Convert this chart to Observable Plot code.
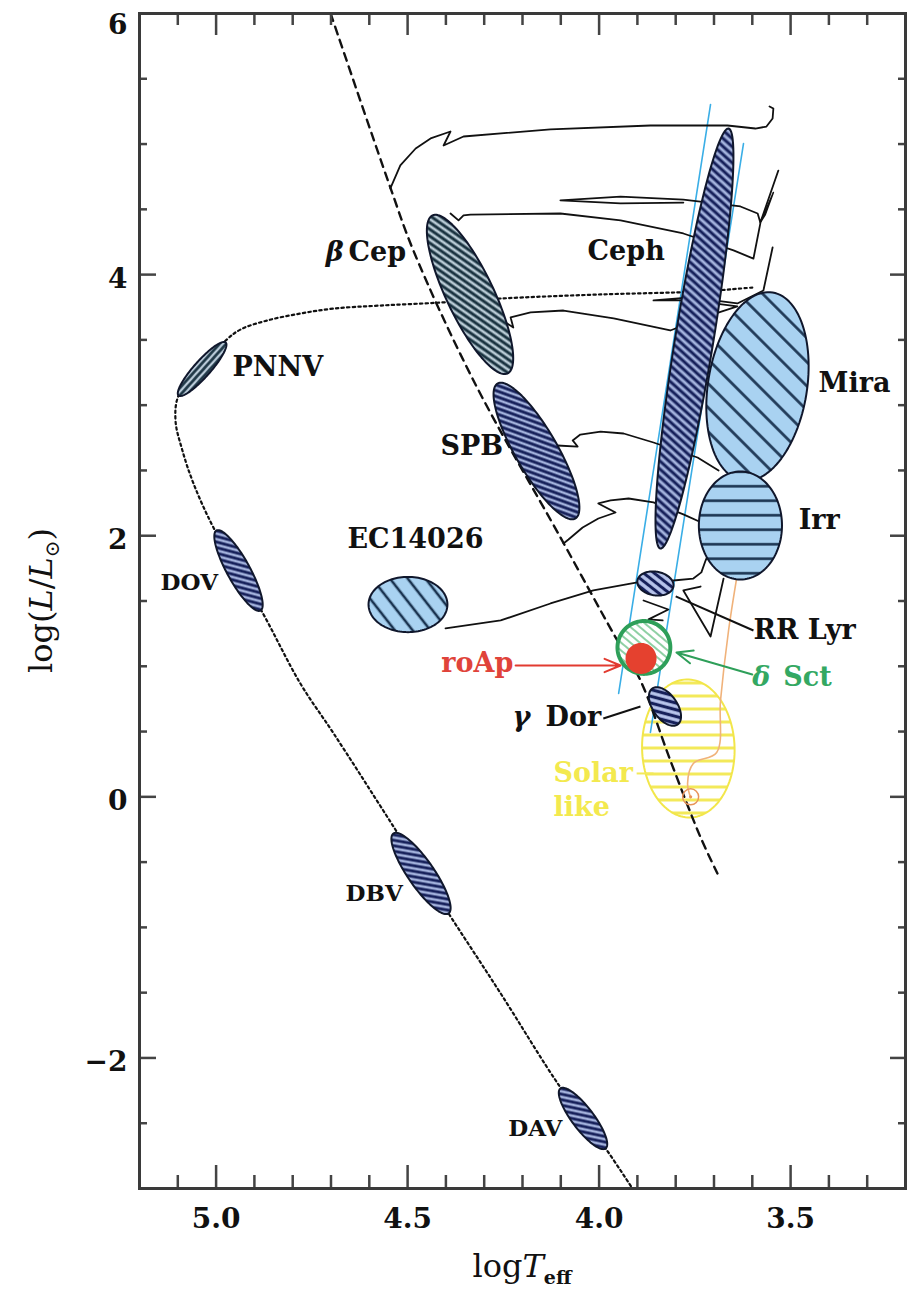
<!DOCTYPE html>
<html><head><meta charset="utf-8">
<script src="https://cdn.jsdelivr.net/npm/d3@7"></script>
<script src="https://cdn.jsdelivr.net/npm/@observablehq/plot@0.6"></script>
<style>html,body{margin:0;padding:0;background:#fff;} svg{display:block;}</style>
</head><body><div id="chart"></div>
<script>
// ---------------- data (log Teff, log L/Lsun) ----------------
const xMajorTicks = [5.0, 4.5, 4.0, 3.5];
const xMinorTicks = [5.1, 4.9, 4.8, 4.7, 4.6, 4.4, 4.3, 4.2, 4.1, 3.9, 3.8, 3.7, 3.6, 3.4, 3.3];
const yMajorTicks = [6, 4, 2, 0, -2];
const yMinorTicks = [5.5, 5, 4.5, 3.5, 3, 2.5, 1.5, 1, 0.5, -0.5, -1, -1.5, -2.5];

// zero-age main sequence (dashed)
const zamsT = [4.701, 4.545, 4.485, 4.328, 4.101, 3.957, 3.892, 3.814, 3.735, 3.691];
const zamsL = [6.0, 4.667, 4.185, 3.189, 1.987, 1.221, 0.891, 0.279, -0.311, -0.587];

// post-AGB / white dwarf cooling track (dotted)
const wdT = [3.600, 3.735, 3.996, 4.257, 4.414, 4.571, 4.693, 4.780, 4.866, 4.936, 4.975, 5.041, 5.098, 5.106, 5.088, 5.059, 5.007, 4.879, 4.780, 4.693, 4.552, 4.393, 4.257, 4.101, 3.983, 3.913];
const wdL = [3.901, 3.871, 3.848, 3.817, 3.786, 3.763, 3.740, 3.702, 3.649, 3.580, 3.495, 3.281, 3.074, 2.883, 2.653, 2.400, 2.063, 1.412, 0.868, 0.485, -0.158, -0.893, -1.506, -2.226, -2.693, -3.0];

// evolutionary tracks (solid)
const trackA_T = [4.545, 4.519, 4.479, 4.440, 4.388, 4.406, 4.354, 4.127, 3.866, 3.665, 3.592, 3.563, 3.547, 3.545, 3.555];
const trackA_L = [4.660, 4.836, 4.966, 5.043, 5.096, 4.989, 5.058, 5.112, 5.142, 5.142, 5.119, 5.134, 5.196, 5.272, 5.288];
const trackB_T = [3.780, 3.944, 4.101, 3.944, 3.780, 3.631, 3.586, 3.579, 3.532];
const trackB_L = [4.552, 4.545, 4.568, 4.598, 4.575, 4.522, 4.468, 4.399, 4.797];
const wedgeT = [3.579, 3.545, 3.566, 3.579];
const wedgeL = [4.399, 4.629, 4.460, 4.399];
const trackC_T = [4.388, 4.367, 4.354, 4.336, 4.101, 3.944, 3.780, 3.649, 3.597, 3.579];
const trackC_L = [4.468, 4.415, 4.453, 4.460, 4.468, 4.415, 4.315, 4.185, 4.123, 4.392];
const trackD_T = [4.244, 4.224, 4.231, 4.179, 4.093, 3.962, 3.814, 3.735, 3.639, 3.761, 3.858, 3.761, 3.639, 3.571, 3.547];
const trackD_L = [3.633, 3.595, 3.672, 3.710, 3.725, 3.664, 3.572, 3.664, 3.756, 3.802, 3.802, 3.825, 3.779, 3.878, 4.208];
const trackE_T = [4.109, 4.056, 4.069, 4.049, 3.996, 3.936, 3.858, 3.743, 3.688];
const trackE_L = [2.691, 2.683, 2.730, 2.775, 2.798, 2.783, 2.714, 2.599, 2.500];
const trackF_T = [4.093, 4.080, 4.043, 4.002, 3.957, 4.002, 3.970, 3.923, 3.858, 3.780, 3.727];
const trackF_L = [1.941, 1.971, 2.063, 2.132, 2.178, 2.247, 2.270, 2.285, 2.255, 2.163, 2.094];
const trackG_T = [4.401, 4.257, 4.127, 4.015, 3.900, 3.806, 3.754, 3.733, 3.722, 3.714];
const trackG_L = [1.290, 1.351, 1.481, 1.581, 1.642, 1.657, 1.672, 1.719, 1.810, 1.864];
const trackH_T = [3.884, 3.819, 3.871, 3.834];
const trackH_L = [1.504, 1.435, 1.359, 1.351];
const trackI_T = [3.735, 3.780, 3.709, 3.675];
const trackI_L = [1.611, 1.581, 1.228, 1.672];

// solar track (orange) and Sun
const sunTrackT = [3.761, 3.769, 3.754, 3.693, 3.683, 3.662, 3.641];
const sunTrackL = [-0.005, 0.102, 0.256, 0.340, 0.738, 1.274, 1.672];
const sunT = [3.761];
const sunL = [0.0];

// instability strip edges (blue)
const stripBlueT = [3.709, 3.949];
const stripBlueL = [5.303, 0.792];
const stripRedT = [3.623, 3.866];
const stripRedL = [5.004, 0.493];

// pulsator regions: two ends of major axis + minor/major ratio
const regionNames = ["Solar", "PNNV", "DOV", "DBV", "DAV", "bCep", "SPB", "Ceph", "Mira", "Irr", "EC14026", "RRLyr", "gDor", "dSct", "roAp"];
const regionT1 = [3.772, 5.098, 4.999, 4.537, 4.101, 4.435, 4.265, 3.662, 3.547, 3.631, 4.602, 3.900, 3.861, 3.952, 3.931];
const regionL1 = [0.899, 3.074, 2.040, -0.281, -2.234, 4.453, 3.166, 5.119, 3.863, 2.492, 1.473, 1.657, 0.830, 1.144, 1.060];
const regionT2 = [3.762, 4.975, 4.884, 4.393, 3.983, 4.239, 4.062, 3.840, 3.626, 3.631, 4.396, 3.806, 3.795, 3.814, 3.850];
const regionL2 = [-0.158, 3.480, 1.427, -0.893, -2.693, 3.243, 2.132, 1.902, 2.423, 1.665, 1.473, 1.611, 0.554, 1.144, 1.060];
const regionRatio = [0.67, 0.23, 0.25, 0.27, 0.29, 0.27, 0.27, 0.09, 0.52, 0.77, 0.70, 0.65, 0.55, 1, 1];

// labels
const labelText = ["PNNV", "Cep", "Ceph", "Mira", "SPB", "EC14026", "Irr", "RR Lyr", "roAp", "Sct", "Dor", "Solar", "like", "DOV", "DBV", "DAV"];
const labelT = [4.957, 4.654, 4.030, 3.427, 4.414, 4.657, 3.479, 3.597, 4.224, 3.519, 4.140, 4.119, 4.119, 5.145, 4.662, 4.237];
const labelL = [3.289, 4.169, 4.177, 3.166, 2.684, 1.971, 2.117, 1.274, 1.021, 0.914, 0.608, 0.179, -0.082, 1.642, -0.740, -2.540];
const greekText = ["β", "δ", "γ"];
const greekT = [4.667, 3.600, 4.226];
const greekL = [4.169, 0.914, 0.608];

// leader lines and arrows
const leaderNames = ["RR Lyr", "γ Dor", "Solar"];
const leaderT1 = [3.800, 3.989, 3.902];
const leaderL1 = [1.535, 0.600, 0.179];
const leaderT2 = [3.597, 3.892, 3.858];
const leaderL2 = [1.274, 0.692, 0.179];
const arrowNames = ["roAp", "δ Sct"];
const arrowT1 = [4.218, 3.600];
const arrowL1 = [1.006, 0.937];
const arrowT2 = [3.944, 3.798];
const arrowL2 = [1.006, 1.106];

// ---------------- layout & styles ----------------
const W = 913, H = 1289, mL = 139, mR = 8, mT = 13, mB = 101;
const xDom = [5.2, 3.2], yDom = [-3, 6];
const kx = (W - mL - mR) / Math.abs(xDom[0] - xDom[1]);
const ky = (H - mT - mB) / (yDom[1] - yDom[0]);
const SERIF = "DejaVu Serif";

const NAVY_BG = "#a3b2dc", NAVY = "#16205a";
const hatch = {
  Solar:  {bg: null,      fg: "#f3e95a", angle: 0,   gap: 13,  lw: 3},
  PNNV:   {bg: "#b9cad8", fg: "#17303f", angle: -48, gap: 5,   lw: 2.6},
  DOV:    {bg: NAVY_BG,   fg: NAVY,      angle: 15,  gap: 5.4, lw: 2.8},
  DBV:    {bg: NAVY_BG,   fg: NAVY,      angle: 10,  gap: 5.4, lw: 2.8},
  DAV:    {bg: NAVY_BG,   fg: NAVY,      angle: 12,  gap: 5.4, lw: 2.8},
  bCep:   {bg: "#b8cad4", fg: "#19323f", angle: 35,  gap: 5.6, lw: 2.9},
  SPB:    {bg: NAVY_BG,   fg: NAVY,      angle: 20,  gap: 5.4, lw: 2.9},
  Ceph:   {bg: NAVY_BG,   fg: NAVY,      angle: 42,  gap: 6,   lw: 3},
  Mira:   {bg: "#a9d2f1", fg: "#1a3350", angle: 45,  gap: 17,  lw: 2.6},
  Irr:    {bg: "#a9d2f1", fg: "#1a3350", angle: 0,   gap: 14.5,lw: 2.6},
  EC14026:{bg: "#a9d2f1", fg: "#1a3350", angle: 52,  gap: 14,  lw: 2.6},
  RRLyr:  {bg: "#b8c5ec", fg: NAVY,      angle: 38,  gap: 6.5, lw: 3},
  gDor:   {bg: "#b8c5ec", fg: NAVY,      angle: 15,  gap: 6.5, lw: 3.2},
  dSct:   {bg: "#ffffff", fg: "#8fd0a4", angle: 40,  gap: 6,   lw: 2},
  roAp:   null
};
const regionStroke = {Solar: ["#f2e64a", 2], dSct: ["#2e9f59", 4], roAp: ["none", 0]};
const regionFill = {roAp: "#e5412f"};

function ellipsePts(i, n = 120) {
  const u1 = -regionT1[i] * kx, v1 = regionL1[i] * ky;
  const u2 = -regionT2[i] * kx, v2 = regionL2[i] * ky;
  const cu = (u1 + u2) / 2, cv = (v1 + v2) / 2;
  const a = Math.hypot(u2 - u1, v2 - v1) / 2, b = a * regionRatio[i];
  const phi = Math.atan2(v2 - v1, u2 - u1);
  return d3.range(n + 1).map(k => {
    const t = 2 * Math.PI * k / n;
    const u = cu + a * Math.cos(t) * Math.cos(phi) - b * Math.sin(t) * Math.sin(phi);
    const v = cv + a * Math.cos(t) * Math.sin(phi) + b * Math.sin(t) * Math.cos(phi);
    return {T: -u / kx, L: v / ky};
  });
}
const pts = (Ts, Ls) => Ts.map((t, i) => ({T: t, L: Ls[i]}));

const marks = [];
const regionMark = (i) => {
  const name = regionNames[i];
  const [stroke, sw] = regionStroke[name] || ["#10172c", 2];
  const fill = regionFill[name] || `url(#hatch-${name})`;
  return Plot.line(ellipsePts(i), {x: "T", y: "L", fill, stroke, strokeWidth: sw, curve: "linear"});
};

// solar-like (transparent) first
marks.push(regionMark(regionNames.indexOf("Solar")));
// instability strip
marks.push(Plot.line(pts(stripBlueT, stripBlueL), {x: "T", y: "L", stroke: "#3aaee6", strokeWidth: 1.6}));
marks.push(Plot.line(pts(stripRedT, stripRedL), {x: "T", y: "L", stroke: "#3aaee6", strokeWidth: 1.6}));
// solar track
marks.push(Plot.line(pts(sunTrackT, sunTrackL), {x: "T", y: "L", stroke: "#f0b27a", strokeWidth: 1.6, curve: "catmull-rom"}));
// evolutionary tracks
[[trackA_T, trackA_L], [trackB_T, trackB_L], [trackC_T, trackC_L], [trackD_T, trackD_L],
 [trackE_T, trackE_L], [trackF_T, trackF_L], [trackG_T, trackG_L], [trackH_T, trackH_L], [trackI_T, trackI_L]]
  .forEach(([t, l]) => marks.push(Plot.line(pts(t, l), {x: "T", y: "L", stroke: "#111", strokeWidth: 1.8, strokeLinejoin: "round"})));
marks.push(Plot.line(pts(wedgeT, wedgeL), {x: "T", y: "L", fill: "#111", stroke: "#111", strokeWidth: 1.5}));
// ZAMS and WD tracks
marks.push(Plot.line(pts(zamsT, zamsL), {x: "T", y: "L", stroke: "#111", strokeWidth: 2.4, strokeDasharray: "8,6", curve: "catmull-rom"}));
marks.push(Plot.line(pts(wdT, wdL), {x: "T", y: "L", stroke: "#111", strokeWidth: 2.2, strokeDasharray: "2.4,3.2", curve: "catmull-rom"}));
// hatched regions
regionNames.forEach((n, i) => { if (n !== "Solar") marks.push(regionMark(i)); });
// Sun
marks.push(Plot.dot(pts(sunT, sunL), {x: "T", y: "L", r: 8, stroke: "#e8945a", strokeWidth: 1.5, fill: "none"}));
marks.push(Plot.dot(pts(sunT, sunL), {x: "T", y: "L", r: 1.6, fill: "#e8945a"}));
// leaders
const leaderColor = {"RR Lyr": "#111", "γ Dor": "#111", "Solar": "#f3e95a"};
leaderNames.forEach((n, i) => marks.push(Plot.link([0], {x1: leaderT1[i], y1: leaderL1[i], x2: leaderT2[i], y2: leaderL2[i], stroke: leaderColor[n], strokeWidth: 2})));
const arrowColor = {"roAp": "#e23b30", "δ Sct": "#2e9f59"};
arrowNames.forEach((n, i) => marks.push(Plot.arrow([0], {x1: arrowT1[i], y1: arrowL1[i], x2: arrowT2[i], y2: arrowL2[i], stroke: arrowColor[n], strokeWidth: 2, headLength: 13, headAngle: 45})));

// labels
const labelStyle = {
  roAp: {fill: "#e0433a", anchor: "end"},
  Sct: {fill: "#34a862"}, Solar: {fill: "#f3e94e"}, like: {fill: "#f3e94e"},
  DOV: {size: 23}, DBV: {size: 23}, DAV: {size: 23}
};
labelText.forEach((t, i) => {
  const s = labelStyle[t] || {};
  marks.push(Plot.text([t], {x: labelT[i], y: labelL[i], text: d => d, textAnchor: s.anchor || "start",
    fontFamily: SERIF, fontWeight: "bold", fontSize: s.size || 27, fill: s.fill || "#111"}));
});
const greekStyle = {"β": {anchor: "end", fill: "#111"}, "δ": {anchor: "start", fill: "#34a862"}, "γ": {anchor: "start", fill: "#111"}};
greekText.forEach((t, i) => marks.push(Plot.text([t], {x: greekT[i], y: greekL[i], text: d => d, textAnchor: greekStyle[t].anchor,
  fontFamily: SERIF, fontWeight: "bold", fontStyle: "italic", fontSize: 27, fill: greekStyle[t].fill})));

// ticks (inward)
const tk = {stroke: "#444", strokeWidth: 2.5};
marks.push(Plot.ruleX(xMajorTicks, {x: d => d, y1: yDom[0], y2: yDom[0] + 23 / ky, ...tk}));
marks.push(Plot.ruleX(xMinorTicks, {x: d => d, y1: yDom[0], y2: yDom[0] + 13 / ky, ...tk}));
marks.push(Plot.ruleX(xMajorTicks, {x: d => d, y1: yDom[1] - 22 / ky, y2: yDom[1], ...tk}));
marks.push(Plot.ruleX(xMinorTicks, {x: d => d, y1: yDom[1] - 12 / ky, y2: yDom[1], ...tk}));
marks.push(Plot.ruleY(yMajorTicks, {y: d => d, x1: xDom[0], x2: xDom[0] - 17 / kx, ...tk}));
marks.push(Plot.ruleY(yMinorTicks, {y: d => d, x1: xDom[0], x2: xDom[0] - 8 / kx, ...tk}));
marks.push(Plot.ruleY(yMajorTicks, {y: d => d, x1: xDom[1] + 15 / kx, x2: xDom[1], ...tk}));
marks.push(Plot.ruleY(yMinorTicks, {y: d => d, x1: xDom[1] + 7 / kx, x2: xDom[1], ...tk}));
// tick labels
const tl = {fontFamily: SERIF, fontWeight: "bold", fontSize: 28, fill: "#111"};
marks.push(Plot.text(xMajorTicks, {x: d => d, frameAnchor: "bottom", dy: 39, text: d => d.toFixed(1), ...tl}));
const ytxt = d => d < 0 ? "\u2212" + Math.abs(d) : String(d);
marks.push(Plot.text(yMajorTicks.filter(d => d < yDom[1]), {y: d => d, frameAnchor: "left", dx: -12, dy: 4, textAnchor: "end", text: ytxt, ...tl}));
marks.push(Plot.text(yMajorTicks.filter(d => d >= yDom[1]), {y: d => d, frameAnchor: "left", dx: -12, dy: 12, textAnchor: "end", text: ytxt, ...tl}));
marks.push(Plot.frame({stroke: "#3a3a3a", strokeWidth: 3}));

const svg = Plot.plot({
  width: W, height: H, marginLeft: mL, marginRight: mR, marginTop: mT, marginBottom: mB,
  x: {domain: xDom, axis: null}, y: {domain: yDom, axis: null},
  style: {background: "#fff", overflow: "visible"},
  marks
});

// hatch patterns
const ns = "http://www.w3.org/2000/svg";
const defs = document.createElementNS(ns, "defs");
Object.entries(hatch).forEach(([name, h]) => {
  if (!h) return;
  const p = document.createElementNS(ns, "pattern");
  p.setAttribute("id", "hatch-" + name);
  p.setAttribute("patternUnits", "userSpaceOnUse");
  p.setAttribute("width", h.gap); p.setAttribute("height", h.gap);
  p.setAttribute("patternTransform", `rotate(${h.angle})`);
  if (h.bg) {
    const r = document.createElementNS(ns, "rect");
    r.setAttribute("width", h.gap + 1); r.setAttribute("height", h.gap + 1); r.setAttribute("x", -0.5); r.setAttribute("y", -0.5);
    r.setAttribute("fill", h.bg); p.appendChild(r);
  }
  const ln = document.createElementNS(ns, "rect");
  ln.setAttribute("x", -0.5); ln.setAttribute("width", h.gap + 1);
  ln.setAttribute("y", (h.gap - h.lw) / 2); ln.setAttribute("height", h.lw);
  ln.setAttribute("fill", h.fg); p.appendChild(ln);
  defs.appendChild(p);
});
svg.insertBefore(defs, svg.firstChild);

// axis titles
const sel = d3.select(svg);
const xt = sel.append("text").attr("x", mL + (W - mL - mR) / 2).attr("y", H - 12)
  .attr("text-anchor", "middle").attr("font-family", SERIF).attr("font-size", 32).attr("fill", "#111");
xt.append("tspan").text("log");
xt.append("tspan").attr("font-style", "italic").text("T");
xt.append("tspan").attr("font-size", 19).attr("font-weight", "bold").attr("dy", 7).text("eff");
const yt = sel.append("text").attr("transform", `translate(52,${mT + (H - mT - mB) / 2}) rotate(-90)`)
  .attr("text-anchor", "middle").attr("font-family", SERIF).attr("font-size", 32).attr("fill", "#111");
yt.append("tspan").text("log(");
yt.append("tspan").attr("font-style", "italic").text("L");
yt.append("tspan").text("/");
yt.append("tspan").attr("font-style", "italic").text("L");
yt.append("tspan").attr("font-size", 20).attr("dy", 7).text("\u2299");
yt.append("tspan").attr("font-size", 32).attr("dy", -7).text(")");

document.getElementById("chart").appendChild(svg);
</script></body></html>
